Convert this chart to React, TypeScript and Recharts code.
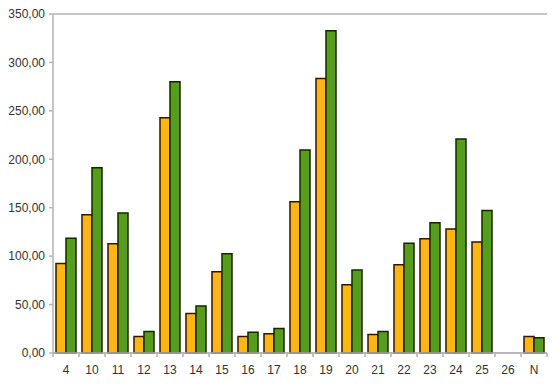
import React from 'react';
import { BarChart, Bar, XAxis, YAxis, CartesianGrid } from 'recharts';

const categories = ['4', '10', '11', '12', '13', '14', '15', '16', '17', '18', '19', '20', '21', '22', '23', '24', '25', '26', 'N'];
const seriesA = [92.5, 142.8, 112.8, 17.1, 243, 40.9, 84, 17, 20, 156.2, 283.5, 70.5, 19.2, 91, 118, 128, 114.6, 0, 17.1];
const seriesB = [118.4, 191.3, 144.5, 22.3, 280, 48.5, 102.5, 21.3, 25.4, 209.6, 332.7, 85.7, 22.3, 113.2, 134.5, 221, 147, 0, 15.8];
const yTicks = [0, 50, 100, 150, 200, 250, 300, 350];

const data = categories.map((c, i) => ({ name: c, a: seriesA[i], b: seriesB[i] }));

const W = 559;
const H = 384;
const M = { top: 14, right: 12, bottom: 0, left: 0 };
const YW = 53;
const XH = 31;
const band = (W - M.left - M.right - YW) / categories.length;

const fmt = (v: number) => v.toFixed(2).replace('.', ',');

const XTick = (props: any) => {
  const { x, y, payload, index, visibleTicksCount } = props;
  const axisY = y - 6;
  const last = index === visibleTicksCount - 1;
  return (
    <g>
      <line x1={x - band / 2} x2={x - band / 2} y1={axisY} y2={axisY + 4} stroke="#b3b3b3" strokeWidth={1.5} />
      {last && <line x1={x + band / 2} x2={x + band / 2} y1={axisY} y2={axisY + 4} stroke="#b3b3b3" strokeWidth={1.5} />}
      <text x={x} y={y + 15} textAnchor="middle" fontSize={12} fill="#333" fontFamily="'Liberation Sans', Arial, sans-serif">
        {payload.value}
      </text>
    </g>
  );
};

export default function App() {
  return (
    <div style={{ position: 'fixed', left: 0, top: 0, width: W, height: H, background: '#fff' }}>
      <BarChart width={W} height={H} data={data} margin={M} barCategoryGap={3} barGap={0}>
        <CartesianGrid vertical={false} stroke="#b3b3b3" strokeWidth={1.5} />
        <XAxis
          dataKey="name"
          height={XH}
          axisLine={{ stroke: '#b3b3b3', strokeWidth: 1.5 }}
          tickLine={false}
          tickSize={4}
          tickMargin={2}
          interval={0}
          tick={<XTick />}
        />
        <YAxis
          yAxisId="left"
          width={YW}
          domain={[0, 350]}
          ticks={yTicks}
          tickFormatter={fmt}
          axisLine={{ stroke: '#b3b3b3', strokeWidth: 1.5 }}
          tickLine={{ stroke: '#b3b3b3', strokeWidth: 1.5 }}
          tickSize={4}
          tickMargin={4}
          tick={{ fontSize: 12, fill: '#333', fontFamily: "'Liberation Sans', Arial, sans-serif" }}
        />
        <YAxis
          yAxisId="right"
          orientation="right"
          width={0}
          domain={[0, 350]}
          ticks={yTicks}
          tick={false}
          tickLine={false}
          axisLine={{ stroke: '#b3b3b3', strokeWidth: 1.5 }}
        />
        <Bar yAxisId="left" dataKey="a" fill="#ffb515" stroke="#2a1a00" strokeWidth={1.5} isAnimationActive={false} />
        <Bar yAxisId="left" dataKey="b" fill="#579d1c" stroke="#142600" strokeWidth={1.5} isAnimationActive={false} />
      </BarChart>
    </div>
  );
}
